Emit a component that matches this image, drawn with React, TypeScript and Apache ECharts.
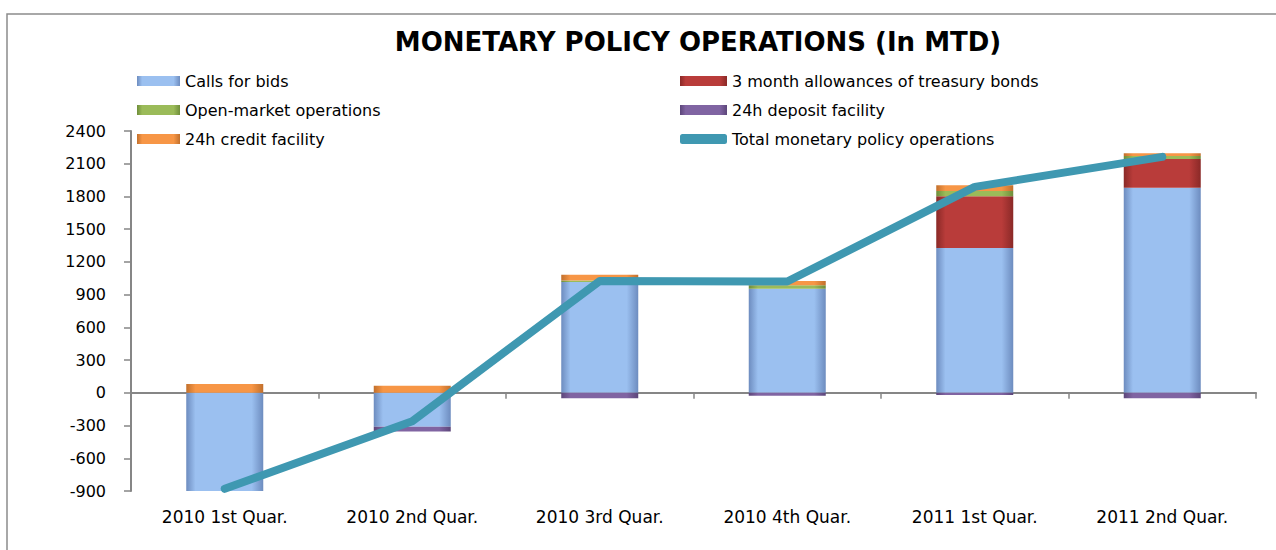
import React, { useEffect, useRef } from "react";
import * as echarts from "echarts";

const categories = [
  "2010 1st Quar.",
  "2010 2nd Quar.",
  "2010 3rd Quar.",
  "2010 4th Quar.",
  "2011 1st Quar.",
  "2011 2nd Quar.",
];
const callsForBids = [-910, -310, 1015, 955, 1327, 1879];
const treasuryBonds = [0, 0, 0, 0, 475, 264];
const openMarket = [0, 0, 15, 32, 49, 27];
const depositFacility = [0, -45, -50, -28, -20, -50];
const creditFacility = [80, 64, 52, 39, 52, 25];
const totalOps = [-880, -260, 1025, 1020, 1888, 2163];

const FONT = "DejaVu Sans";

function grad(edge: string, base: string) {
  return new echarts.graphic.LinearGradient(0, 0, 1, 0, [
    { offset: 0, color: edge },
    { offset: 0.12, color: base },
    { offset: 0.85, color: base },
    { offset: 1, color: edge },
  ]);
}

export default function App() {
  const ref = useRef<HTMLDivElement>(null);
  useEffect(() => {
    document.body.style.margin = "0";
    const chart = echarts.init(ref.current!, undefined, { renderer: "svg" });
    const barBase = {
      type: "bar" as const,
      stack: "ops",
      barWidth: 77,
      xAxisIndex: 0,
    };
    const legendText = { fontSize: 16, lineHeight: 16, color: "#000", fontFamily: FONT };
    chart.setOption({
      animation: false,
      backgroundColor: "#ffffff",
      textStyle: { fontFamily: FONT },
      graphic: [
        {
          type: "rect",
          z: -10,
          shape: { x: 7, y: 14, width: 1320, height: 620 },
          style: { fill: "none", stroke: "#8c8c8c", lineWidth: 1.5 },
        },
        {
          type: "text",
          x: 698,
          y: 42,
          style: {
            text: "MONETARY POLICY OPERATIONS (In MTD)",
            textAlign: "center",
            textVerticalAlign: "middle",
            font: `bold 26px "${FONT}"`,
            fill: "#000",
          },
        },
      ],
      legend: [
        {
          orient: "vertical",
          left: 132,
          top: 68,
          itemWidth: 43,
          itemHeight: 10,
          itemGap: 13,
          icon: "rect",
          textStyle: legendText,
          data: ["Calls for bids", "Open-market operations", "24h credit facility"],
        },
        {
          orient: "vertical",
          left: 675,
          top: 68,
          itemWidth: 47,
          itemHeight: 10,
          itemGap: 13,
          textStyle: legendText,
          data: [
            { name: "3 month allowances of treasury bonds", icon: "rect" },
            { name: "24h deposit facility", icon: "rect" },
            { name: "Total monetary policy operations", icon: "roundRect" },
          ],
        },
      ],
      grid: { left: 131, right: 20, top: 131, bottom: 59 },
      xAxis: [
        {
          type: "category",
          data: categories,
          position: "bottom",
          axisLine: { show: false, onZero: false },
          axisTick: { show: false },
          axisLabel: { margin: 17, fontSize: 17, color: "#000", fontFamily: FONT },
        },
        {
          type: "category",
          data: categories,
          position: "bottom",
          axisLine: { show: true, onZero: true, lineStyle: { color: "#868686", width: 2 } },
          axisTick: { show: true, length: 6, lineStyle: { color: "#868686", width: 1.5 } },
          axisLabel: { show: false },
        },
      ],
      yAxis: {
        type: "value",
        min: -900,
        max: 2400,
        interval: 300,
        axisLine: { show: true, lineStyle: { color: "#868686", width: 2 } },
        axisTick: { show: true, length: 7, lineStyle: { color: "#868686", width: 1.5 } },
        splitLine: { show: false },
        axisLabel: {
          margin: 25,
          fontSize: 16,
          color: "#000",
          fontFamily: FONT,
          formatter: (v: number) => String(v),
        },
      },
      series: [
        {
          ...barBase,
          name: "Calls for bids",
          data: callsForBids,
          itemStyle: { color: grad("#6d8cbf", "#9bc0f0") },
        },
        {
          ...barBase,
          name: "3 month allowances of treasury bonds",
          data: treasuryBonds,
          itemStyle: { color: grad("#8a2927", "#b93c3a") },
        },
        {
          ...barBase,
          name: "Open-market operations",
          data: openMarket,
          itemStyle: { color: grad("#6f8e3a", "#9bbb59") },
        },
        {
          ...barBase,
          name: "24h deposit facility",
          data: depositFacility,
          itemStyle: { color: grad("#5c467a", "#8064a2") },
        },
        {
          ...barBase,
          name: "24h credit facility",
          data: creditFacility,
          itemStyle: { color: grad("#c2702c", "#f79646") },
        },
        {
          type: "line",
          name: "Total monetary policy operations",
          data: totalOps,
          xAxisIndex: 0,
          symbol: "none",
          z: 5,
          itemStyle: { color: "#3f98b1" },
          lineStyle: { color: "#3f98b1", width: 8, cap: "round", join: "round" },
        },
      ],
    });
    return () => chart.dispose();
  }, []);
  return <div ref={ref} style={{ width: 1276, height: 550 }} />;
}
